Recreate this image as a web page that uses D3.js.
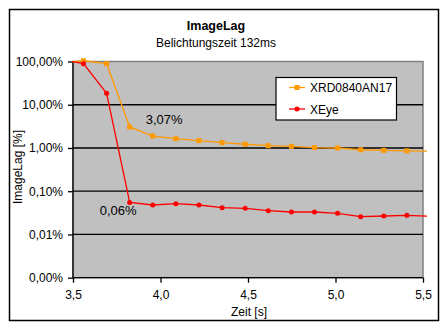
<!DOCTYPE html>
<html><head><meta charset="utf-8">
<script src="https://cdn.jsdelivr.net/npm/d3@7"></script>
<style>body{margin:0;background:#fff}svg{display:block}text{font-family:Arial,"Liberation Sans",sans-serif;fill:#000}</style>
</head><body><svg id="c" width="447" height="331"></svg>
<script>
// Data (x in s, values in fraction; 1 = 100%)
const timesXRD = [3.428, 3.56, 3.692, 3.824, 3.956, 4.088, 4.22, 4.352, 4.484, 4.616, 4.748, 4.88, 5.012, 5.144, 5.276, 5.408, 5.54];
const valuesXRD = [0.94, 1.04, 0.89, 0.0307, 0.0189, 0.0164, 0.0148, 0.0133, 0.0122, 0.0113, 0.0109, 0.0102, 0.0100, 0.0091, 0.0088, 0.0086, 0.0084];
const timesXEye = [3.428, 3.56, 3.692, 3.824, 3.956, 4.088, 4.22, 4.352, 4.484, 4.616, 4.748, 4.88, 5.012, 5.144, 5.276, 5.408, 5.54];
const valuesXEye = [1.10, 0.89, 0.184, 0.00055, 0.00048, 0.000515, 0.00048, 0.000416, 0.000403, 0.000355, 0.000331, 0.000331, 0.000309, 0.000258, 0.000267, 0.000277, 0.000265];
const seriesNames = ["XRD0840AN17", "XEye"];
const seriesColors = ["#FF9900", "#FF0000"];
const yTicks = [0.00001, 0.0001, 0.001, 0.01, 0.1, 1];
const yTickLabels = ["0,00%", "0,01%", "0,10%", "1,00%", "10,00%", "100,00%"];
const xTicks = [3.5, 4.0, 4.5, 5.0, 5.5];
const xTickLabels = ["3,5", "4,0", "4,5", "5,0", "5,5"];
const annotations = [{x: 3.824, y: 0.0307, text: "3,07%", dx: 16, dy: -3}, {x: 3.824, y: 0.00055, text: "0,06%", dx: -30, dy: 13}];

const svg = d3.select("#c");
const L = 73, R = 423, T = 61.5, B = 277.7;
const x = d3.scaleLinear().domain([3.5, 5.5]).range([L, R]);
const y = d3.scaleLog().domain([0.00001, 1]).range([B, T]);

// outer frame
svg.append("rect").attr("x", 9.5).attr("y", 9.5).attr("width", 429).attr("height", 311)
  .attr("fill", "#fff").attr("stroke", "#000").attr("stroke-width", 1.5);

// title
svg.append("text").attr("x", 216).attr("y", 30).attr("text-anchor", "middle")
  .attr("font-size", 12.5).attr("font-weight", "bold").text("ImageLag");
svg.append("text").attr("x", 216).attr("y", 46.5).attr("text-anchor", "middle")
  .attr("font-size", 12).text("Belichtungszeit 132ms");

// plot bg
svg.append("rect").attr("x", L).attr("y", T).attr("width", R - L).attr("height", B - T)
  .attr("fill", "#C0C0C0").attr("stroke", "#808080").attr("stroke-width", 1.5);

// gridlines
svg.append("g").selectAll("line").data(yTicks.slice(1, -1)).join("line")
  .attr("x1", L).attr("x2", R).attr("y1", d => y(d)).attr("y2", d => y(d))
  .attr("stroke", "#000").attr("stroke-width", 1.3);

// y axis
const yAxis = d3.axisLeft(y).tickValues(yTicks).tickSize(5).tickPadding(5)
  .tickFormat((d, i) => yTickLabels[i]);
const gy = svg.append("g").attr("transform", `translate(${L},0)`).call(yAxis);
gy.select(".domain").attr("stroke", "#000").attr("stroke-width", 1.3).attr("d", `M0,${T}V${B}`);
gy.selectAll("line").attr("stroke-width", 1.3);
gy.selectAll("text").attr("font-size", 12).style("font-family", 'Arial,"Liberation Sans",sans-serif');

// x axis
const xAxis = d3.axisBottom(x).tickValues(xTicks).tickSize(5).tickPadding(8)
  .tickFormat((d, i) => xTickLabels[i]);
const gx = svg.append("g").attr("transform", `translate(0,${B})`).call(xAxis);
gx.select(".domain").attr("stroke", "#000").attr("stroke-width", 1.3).attr("d", `M${L},0H${R}`);
gx.selectAll("line").attr("stroke-width", 1.3);
gx.selectAll("text").attr("font-size", 12).style("font-family", 'Arial,"Liberation Sans",sans-serif');

// axis titles
svg.append("text").attr("x", 249).attr("y", 316).attr("text-anchor", "middle").attr("font-size", 12).text("Zeit [s]");
svg.append("text").attr("transform", "translate(22,167) rotate(-90)").attr("text-anchor", "middle")
  .attr("font-size", 12).text("ImageLag [%]");

// clip
svg.append("clipPath").attr("id", "clip").append("rect")
  .attr("x", L - 1).attr("y", T - 6).attr("width", R - L + 5).attr("height", B - T + 6);

const data = [timesXRD.map((t, i) => [t, valuesXRD[i]]), timesXEye.map((t, i) => [t, valuesXEye[i]])];
const line = d3.line().x(d => x(d[0])).y(d => y(d[1]));
const gS = svg.append("g").attr("clip-path", "url(#clip)");
data.forEach((s, k) => {
  gS.append("path").attr("d", line(s)).attr("fill", "none").attr("stroke", seriesColors[k]).attr("stroke-width", 1.3);
});
const inRange = d => d[0] >= 3.5 && d[0] <= 5.5;
// orange squares
gS.append("g").selectAll("rect").data(data[0].filter(inRange)).join("rect")
  .attr("x", d => x(d[0]) - 2.5).attr("y", d => y(d[1]) - 2.5).attr("width", 5).attr("height", 5)
  .attr("fill", seriesColors[0]);
// red markers
gS.append("g").selectAll("path").data(data[1].filter(inRange)).join("path")
  .attr("d", d3.symbol(d3.symbolCircle, 20)).attr("transform", d => `translate(${x(d[0])},${y(d[1])})`)
  .attr("fill", seriesColors[1]);

// annotations
svg.append("g").selectAll("text").data(annotations).join("text")
  .attr("x", d => x(d.x) + d.dx).attr("y", d => y(d.y) + d.dy).attr("font-size", 13).text(d => d.text);

// legend
const lg = svg.append("g");
lg.append("rect").attr("x", 276).attr("y", 77.5).attr("width", 120.5).attr("height", 42.5)
  .attr("fill", "#fff").attr("stroke", "#000").attr("stroke-width", 1.2);
seriesNames.forEach((n, k) => {
  const cy = 87.5 + k * 21.5;
  lg.append("line").attr("x1", 289).attr("x2", 305).attr("y1", cy).attr("y2", cy).attr("stroke", seriesColors[k]).attr("stroke-width", 1.3);
  if (k === 0) lg.append("rect").attr("x", 294.5).attr("y", cy - 2.5).attr("width", 5).attr("height", 5).attr("fill", seriesColors[k]);
  else lg.append("path").attr("d", d3.symbol(d3.symbolCircle, 20)).attr("transform", `translate(297,${cy})`).attr("fill", seriesColors[k]);
  lg.append("text").attr("x", 310).attr("y", cy + 4.5).attr("font-size", 12).text(n);
});
</script></body></html>
